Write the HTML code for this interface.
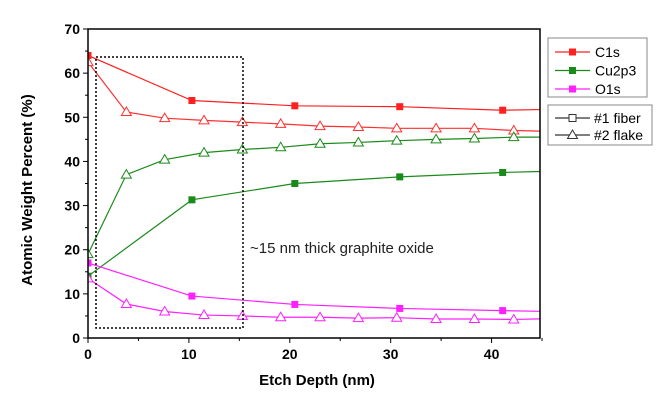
<!DOCTYPE html>
<html><head><meta charset="utf-8"><style>
body{margin:0;background:#fff;}
svg{display:block;font-family:"Liberation Sans",Arial,sans-serif;}
</style></head><body>
<svg id="chart" width="672" height="400" viewBox="0 0 672 400"></svg>
<script>
const fiberX=[0,10.3,20.5,30.9,41.1,46];
const fiberC=[64,53.8,52.6,52.4,51.6,51.8];
const fiberCu=[14,31.3,35,36.5,37.5,37.8];
const fiberO=[17,9.5,7.6,6.7,6.2,6.0];
const flakeX=[0,3.8,7.6,11.5,15.3,19.1,23,26.8,30.6,34.5,38.3,42.2,46];
const flakeC=[62.5,51.2,49.8,49.3,48.9,48.5,48.0,47.8,47.5,47.5,47.5,47.0,46.8];
const flakeCu=[19,37,40.4,42,42.7,43.2,44,44.3,44.7,45,45.2,45.5,45.5];
const flakeO=[13.5,7.7,6,5.2,5,4.7,4.7,4.5,4.6,4.3,4.3,4.2,4.4];
const yTicks=[0,10,20,30,40,50,60,70];
const xTicks=[0,10,20,30,40];
const L=88,R=540,T=29,B=338,XMAX=44.8,YMAX=70;
const sx=v=>L+v/XMAX*(R-L), sy=v=>B-v/YMAX*(B-T);
const NS="http://www.w3.org/2000/svg", svg=document.getElementById('chart');
function mk(tag,attrs,parent){const e=document.createElementNS(NS,tag);for(const k in attrs)e.setAttribute(k,attrs[k]);(parent||svg).appendChild(e);return e;}
const defs=mk('defs',{});const cp=mk('clipPath',{id:'clip'},defs);mk('rect',{x:L,y:T,width:R-L,height:B-T},cp);
const plot=mk('g',{'clip-path':'url(#clip)'});


function series(xs,ys,color,sq,name){
  const g=mk('g',{},plot);
  
  
  mk('polyline',{points:xs.map((x,i)=>sx(x)+','+sy(ys[i])).join(' '),fill:'none',stroke:color,'stroke-width':1.2},g);
  xs.forEach((x,i)=>{const cx=sx(x),cy=sy(ys[i]);let m;
    if(sq){m=mk('rect',{x:cx-3.5,y:cy-3.5,width:7,height:7,fill:color},g);}
    else{m=mk('polygon',{points:`${cx},${cy-5} ${cx-5},${cy+3.5} ${cx+5},${cy+3.5}`,fill:'#fff',stroke:color,'stroke-width':1},g);}
    
    });
}
series(fiberX,fiberC,'#ff2020',true,'c1s-fiber');
series(flakeX,flakeC,'#ff3030',false,'c1s-flake');
series(flakeX,flakeCu,'#1a8a1a',false,'cu2p3-flake');
series(fiberX,fiberCu,'#1a8a1a',true,'cu2p3-fiber');
series(fiberX,fiberO,'#ff20ff',true,'o1s-fiber');
series(flakeX,flakeO,'#ff20ff',false,'o1s-flake');
const box=mk('rect',{x:96,y:57,width:147,height:271,fill:'none',stroke:'#000','stroke-width':1.5,'stroke-dasharray':'2,2'});

const ann=mk('text',{x:250,y:253,'font-size':15,fill:'#222'});ann.textContent='~15 nm thick graphite oxide';

const frame=mk('rect',{x:L,y:T,width:R-L,height:B-T,fill:'none',stroke:'#000','stroke-width':1.5});

yTicks.forEach(v=>{mk('line',{x1:L-5,x2:L,y1:sy(v),y2:sy(v),stroke:'#000'});
  if(v<70)mk('line',{x1:L-3,x2:L,y1:sy(v+5),y2:sy(v+5),stroke:'#000'});
  const t=mk('text',{x:L-8,y:sy(v)+5,'text-anchor':'end','font-size':14,'font-weight':'bold'});t.textContent=v;
  });
xTicks.forEach(v=>{mk('line',{x1:sx(v),x2:sx(v),y1:B,y2:B+5,stroke:'#000'});
  mk('line',{x1:sx(v+5),x2:sx(v+5),y1:B,y2:B+3,stroke:'#000'});
  const t=mk('text',{x:sx(v),y:B+21,'text-anchor':'middle','font-size':14,'font-weight':'bold'});t.textContent=v;
  });
const xt=mk('text',{x:317,y:385,'text-anchor':'middle','font-size':15,'font-weight':'bold'});xt.textContent='Etch Depth (nm)';

const yt=mk('text',{x:0,y:0,transform:'translate(32,190) rotate(-90)','text-anchor':'middle','font-size':15,'font-weight':'bold'});yt.textContent='Atomic Weight Percent (%)';

const lg1=mk('g',{});
mk('rect',{x:548,y:38,width:99,height:59,fill:'#fff',stroke:'#888'},lg1);
[['C1s','#ff2020'],['Cu2p3','#1a8a1a'],['O1s','#ff20ff']].forEach((d,i)=>{const y=52+i*18.5;
  const g=mk('g',{},lg1);
  mk('line',{x1:555,x2:590,y1:y,y2:y,stroke:d[1],'stroke-width':1.2},g);
  mk('rect',{x:569,y:y-3.5,width:7,height:7,fill:d[1]},g);
  const t=mk('text',{x:595,y:y+5,'font-size':14},g);t.textContent=d[0];});
const lg2=mk('g',{});
mk('rect',{x:548,y:105,width:104,height:40,fill:'#fff',stroke:'#888'},lg2);
[['#1 fiber',true],['#2 flake',false]].forEach((d,i)=>{const y=118+i*17;
  const g=mk('g',{},lg2);
  mk('line',{x1:555,x2:590,y1:y,y2:y,stroke:'#333','stroke-width':1.2},g);
  if(d[1])mk('rect',{x:569,y:y-3.5,width:7,height:7,fill:'#fff',stroke:'#333'},g);
  else mk('polygon',{points:`572.5,${y-5} 567.5,${y+3.5} 577.5,${y+3.5}`,fill:'#fff',stroke:'#333'},g);
  const t=mk('text',{x:594,y:y+5,'font-size':14},g);t.textContent=d[0];});
</script>
</body></html>
